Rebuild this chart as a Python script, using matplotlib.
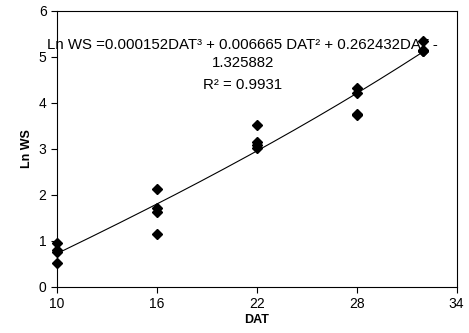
import numpy as np
import matplotlib
matplotlib.use("Agg")
import matplotlib.pyplot as plt

plt.rcParams['font.family'] = ['Liberation Sans', 'DejaVu Sans']

# DAT (days after transplanting) and Ln WS observations
dat = [10, 10, 10, 10,
       16, 16, 16, 16,
       22, 22, 22, 22,
       28, 28, 28, 28,
       32, 32, 32, 32]
ln_ws = [0.95, 0.80, 0.76, 0.52,
         2.12, 1.71, 1.62, 1.15,
         3.52, 3.15, 3.08, 3.02,
         4.32, 4.22, 3.75, 3.74,
         5.35, 5.15, 5.12, 5.13]
x_ticks = [10, 16, 22, 28, 34]
y_ticks = [0, 1, 2, 3, 4, 5, 6]

fig = plt.figure(figsize=(4.69, 3.33), dpi=100)
ax = fig.add_axes([0.1215, 0.139, 0.852, 0.828])

ax.plot(dat, ln_ws, 'D', color='black', markersize=5.5, zorder=5, clip_on=False)

# cubic trendline fitted to the points
coef = np.polyfit(dat, ln_ws, 3)
xs = np.linspace(min(dat), max(dat), 200)
ax.plot(xs, np.polyval(coef, xs), color='black', linewidth=0.8)

ax.set_xlim(10, 34)
ax.set_ylim(0, 6)
ax.set_xticks(x_ticks)
ax.set_yticks(y_ticks)
ax.tick_params(direction='out', length=4, width=0.8, labelsize=10, colors='black')
for s in ax.spines.values():
    s.set_linewidth(0.8)

ax.set_xlabel('DAT', fontsize=9, fontweight='bold', labelpad=2)
ax.set_ylabel('Ln WS', fontsize=9, fontweight='bold', labelpad=4)

eq_lines = ['Ln WS =0.000152DAT\u00b3 + 0.006665 DAT\u00b2 + 0.262432DAT -',
            '1.325882',
            'R\u00b2 = 0.9931']
for line, yy in zip(eq_lines, [0.875, 0.811, 0.73]):
    ax.text(0.465, yy, line, transform=ax.transAxes, ha='center', va='center',
            fontsize=10.8, zorder=2)

fig.savefig('out.png', dpi=100)
